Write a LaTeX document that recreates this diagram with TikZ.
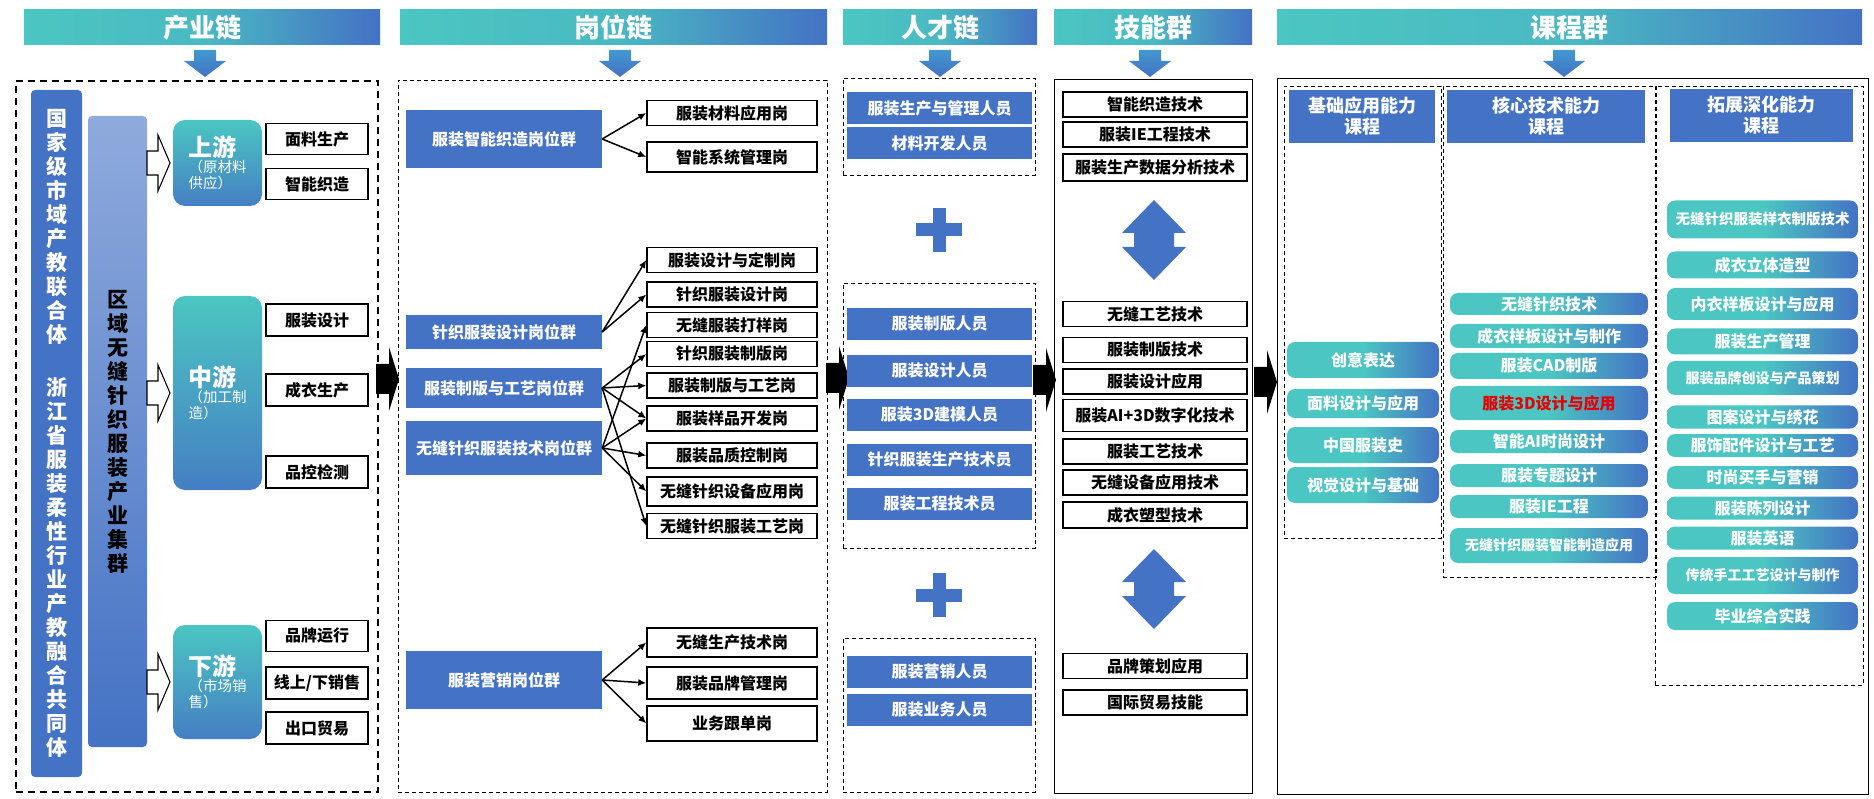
\documentclass[tikz,border=0pt]{standalone}
\usepackage{fontspec}
\setmainfont{Noto Sans CJK SC}
\usepackage{xcolor}
\usepackage{tikz}
\usetikzlibrary{arrows.meta,positioning}
\definecolor{tealc}{RGB}{75,198,194}
\definecolor{bluec}{RGB}{68,114,196}
\definecolor{lightbluec}{RGB}{143,170,220}
\definecolor{arrowblue}{RGB}{64,140,210}
\definecolor{redc}{RGB}{230,0,0}

\begin{document}
\begin{tikzpicture}[x=1pt, y=-1pt, >=Latex, every node/.style={inner sep=0pt, font=\bfseries\fontsize{16}{18}\selectfont}]
\tikzstyle{chainbar}=[left color=tealc, right color=bluec, middle color=tealc!85!bluec, text=white, minimum height=35, font=\bfseries\fontsize{26}{28}\selectfont]
\tikzstyle{plainbox}=[draw, line width=1.4, fill=white]
\tikzstyle{groupbox}=[fill=bluec, text=white, minimum width=196]
\tikzstyle{postbox}=[plainbox, minimum width=170]
\tikzstyle{talentbox}=[fill=bluec, text=white, minimum width=185, minimum height=32]
\tikzstyle{skillbox}=[plainbox, minimum width=184]
\tikzstyle{stagebox}=[rounded corners=12, top color=tealc, bottom color=bluec!85!tealc, text=white, minimum width=89, align=left, font=\fontsize{14.5}{16}\selectfont]
\tikzstyle{coursebox}=[rounded corners=8, left color=tealc, right color=bluec, middle color=tealc, text=white]
\tikzstyle{headbox}=[fill=bluec, text=white, minimum height=53, align=center, font=\bfseries\fontsize{18}{21}\selectfont]
\tikzstyle{dashframe}=[draw, line width=0.9, dash pattern=on 4pt off 3pt]
\tikzstyle{link}=[line width=1.5, -{Latex[length=8pt,width=7pt]}]
\useasboundingbox (0,0) rectangle (1874,799);

% header bars
\node[chainbar, minimum width=356] (hbind) at (202,27.5) {产业链};
\node[chainbar, minimum width=427] (hbpost) at (613.5,27.5) {岗位链};
\node[chainbar, minimum width=194] (hbtal) at (940,27.5) {人才链};
\node[chainbar, minimum width=198] (hbskill) at (1153,27.5) {技能群};
\node[chainbar, minimum width=585] (hbcourse) at (1569.5,27.5) {课程群};
\foreach \cx in {205,620,940,1150,1564}
  \shade[top color=arrowblue!80!tealc, bottom color=bluec] (\cx-11,50) -- (\cx+11,50) -- (\cx+11,61) -- (\cx+21,61) -- (\cx,77) -- (\cx-21,61) -- (\cx-11,61) -- cycle;

% frames
\node[draw, line width=2, dash pattern=on 7pt off 5pt, minimum width=362, minimum height=711] (indframe) at (197,436.5) {};
\node[dashframe, minimum width=429, minimum height=712] (postframe) at (612.5,436) {};
\node[dashframe, minimum width=192, minimum height=97] (talframeA) at (939,126.5) {};
\node[dashframe, minimum width=192, minimum height=265] (talframeB) at (939,415.5) {};
\node[dashframe, minimum width=192, minimum height=154] (talframeC) at (939,715) {};
\node[draw, line width=1, minimum width=198, minimum height=713] (skillframe) at (1153,436.5) {};
\node[draw, line width=1, minimum width=591, minimum height=715] (courseframe) at (1572.5,436.5) {};
\node[dashframe, minimum width=157, minimum height=452] (colA) at (1362.5,312) {};
\node[dashframe, minimum width=213, minimum height=491] (colB) at (1549.5,331.5) {};
\node[dashframe, minimum width=208, minimum height=599] (colC) at (1759,385.5) {};

% big arrows between chains
\foreach \ax/\ay in {376/379, 826/378, 1033/380, 1254/382}
  \fill (\ax,\ay-15) -- (\ax+13,\ay-15) -- (\ax+13,\ay-32) -- (\ax+23,\ay) -- (\ax+13,\ay+32) -- (\ax+13,\ay+15) -- (\ax,\ay+15) -- cycle;

% industry chain
\node[fill=bluec, rounded corners=4, minimum width=51, minimum height=687, text=white, align=center, font=\bfseries\fontsize{21}{24}\selectfont] (alliance) at (56.5,433.5) {国\\家\\级\\市\\域\\产\\教\\联\\合\\体\\[29pt]浙\\江\\省\\服\\装\\柔\\性\\行\\业\\产\\教\\融\\合\\共\\同\\体};
\node[top color=lightbluec, bottom color=bluec, rounded corners=4, minimum width=59, minimum height=631, align=center, font=\bfseries\fontsize{21}{24}\selectfont] (cluster) at (117.5,431.5) {区\\域\\无\\缝\\针\\织\\服\\装\\产\\业\\集\\群};
\foreach \ay in {163,393,682}
  \filldraw[fill=white, line width=1.1] (147,\ay-12) -- (158,\ay-12) -- (158,\ay-28) -- (170,\ay) -- (158,\ay+28) -- (158,\ay+12) -- (147,\ay+12) -- cycle;
\node[stagebox, minimum height=86] (up) at (217.5,163) {{\bfseries\fontsize{24}{26}\selectfont 上游}\\（原材料\\供应）};
\node[stagebox, minimum height=194] (mid) at (217.5,393) {{\bfseries\fontsize{24}{26}\selectfont 中游}\\（加工制\\造）};
\node[stagebox, minimum height=114] (down) at (217.5,682) {{\bfseries\fontsize{24}{26}\selectfont 下游}\\（市场销\\售）};
\node[plainbox, minimum width=102, minimum height=31] (ind1) at (317,139) {面料生产};
\node[plainbox, minimum width=102, minimum height=31] (ind2) at (317,184) {智能织造};
\node[plainbox, minimum width=102, minimum height=32] (ind3) at (317,320) {服装设计};
\node[plainbox, minimum width=102, minimum height=32] (ind4) at (317,390) {成衣生产};
\node[plainbox, minimum width=102, minimum height=32] (ind5) at (317,472) {品控检测};
\node[plainbox, minimum width=102, minimum height=31] (ind6) at (317,636) {品牌运行};
\node[plainbox, minimum width=102, minimum height=32] (ind7) at (317,683) {线上/下销售};
\node[plainbox, minimum width=102, minimum height=32] (ind8) at (317,728) {出口贸易};

% post chain
\node[groupbox, minimum height=58] (g1) at (504,139) {服装智能织造岗位群};
\node[groupbox, minimum height=34] (g2) at (504,332) {针织服装设计岗位群};
\node[groupbox, minimum height=40] (g3) at (504,388) {服装制版与工艺岗位群};
\node[groupbox, minimum height=54] (g4) at (504,448) {无缝针织服装技术岗位群};
\node[groupbox, minimum height=58] (g5) at (504,680) {服装营销岗位群};
\node[postbox, minimum height=25] (q1) at (732,113) {服装材料应用岗};
\node[postbox, minimum height=30] (q2) at (732,157) {智能系统管理岗};
\node[postbox, minimum height=25] (p1) at (732,260) {服装设计与定制岗};
\node[postbox, minimum height=25] (p2) at (732,294.5) {针织服装设计岗};
\node[postbox, minimum height=25] (p3) at (732,325) {无缝服装打样岗};
\node[postbox, minimum height=25] (p4) at (732,354) {针织服装制版岗};
\node[postbox, minimum height=25] (p5) at (732,385.5) {服装制版与工艺岗};
\node[postbox, minimum height=25] (p6) at (732,418.5) {服装样品开发岗};
\node[postbox, minimum height=25] (p7) at (732,455.5) {服装品质控制岗};
\node[postbox, minimum height=29] (p8) at (732,491.5) {无缝针织设备应用岗};
\node[postbox, minimum height=25] (p9) at (732,526) {无缝针织服装工艺岗};
\node[postbox, minimum height=29] (r1) at (732,642.5) {无缝生产技术岗};
\node[postbox, minimum height=32] (r2) at (732,683) {服装品牌管理岗};
\node[postbox, minimum height=35] (r3) at (732,723.5) {业务跟单岗};
\draw[link] (g1.east) -- (q1.west);
\draw[link] (g1.east) -- (q2.west);
\draw[link] (g2.east) -- (p1.west);
\draw[link] (g2.east) -- (p2.west);
\draw[link] (g3.east) -- (p4.west);
\draw[link] (g3.east) -- (p5.west);
\draw[link] (g3.east) -- (p6.west);
\draw[link] (g3.east) -- (p9.west);
\draw[link] (g4.east) -- (p3.west);
\draw[link] (g4.east) -- (p6.west);
\draw[link] (g4.east) -- (p7.west);
\draw[link] (g4.east) -- (p8.west);
\draw[link] (g5.east) -- (r1.west);
\draw[link] (g5.east) -- (r2.west);
\draw[link] (g5.east) -- (r3.west);

% talent chain
\node[talentbox] (t1) at (939.5,108) {服装生产与管理人员};
\node[talentbox] (t2) at (939.5,143) {材料开发人员};
\node[talentbox] (t3) at (939.5,324) {服装制版人员};
\node[talentbox] (t4) at (939.5,371) {服装设计人员};
\node[talentbox] (t5) at (939.5,415) {服装3D建模人员};
\node[talentbox] (t6) at (939.5,459.5) {针织服装生产技术员};
\node[talentbox] (t7) at (939.5,504) {服装工程技术员};
\node[talentbox] (t8) at (939.5,671.5) {服装营销人员};
\node[talentbox] (t9) at (939.5,710) {服装业务人员};
\foreach \py in {230,595} {
  \fill[bluec] (916,\py-6.5) rectangle (962,\py+6.5);
  \fill[bluec] (932.5,\py-22) rectangle (945.5,\py+22);
}

% skill group
\node[skillbox, minimum height=25] (s1) at (1155,104.5) {智能织造技术};
\node[skillbox, minimum height=25] (s2) at (1155,134.5) {服装IE工程技术};
\node[skillbox, minimum height=27] (s3) at (1155,167.5) {服装生产数据分析技术};
\node[skillbox, minimum height=25] (s4) at (1155,314) {无缝工艺技术};
\node[skillbox, minimum height=25] (s5) at (1155,350) {服装制版技术};
\node[skillbox, minimum height=25] (s6) at (1155,381.5) {服装设计应用};
\node[skillbox, minimum height=32] (s7) at (1155,415.5) {服装AI+3D数字化技术};
\node[skillbox, minimum height=25] (s8) at (1155,451.5) {服装工艺技术};
\node[skillbox, minimum height=25] (s9) at (1155,482.5) {无缝设备应用技术};
\node[skillbox, minimum height=26] (s10) at (1155,515) {成衣塑型技术};
\node[skillbox, minimum height=25] (s11) at (1155,666) {品牌策划应用};
\node[skillbox, minimum height=25] (s12) at (1155,702.5) {国际贸易技能};
\foreach \dy in {200,549}
  \fill[bluec] (1154,\dy) -- (1186,\dy+33) -- (1174,\dy+33) -- (1174,\dy+47) -- (1186,\dy+47) -- (1154,\dy+80) -- (1122,\dy+47) -- (1134,\dy+47) -- (1134,\dy+33) -- (1122,\dy+33) -- cycle;

% course group
\node[headbox, minimum width=146] (h1) at (1362,116.5) {基础应用能力\\课程};
\node[headbox, minimum width=198] (h2) at (1546,116.5) {核心技术能力\\课程};
\node[headbox, minimum width=183] (h3) at (1761.5,115.5) {拓展深化能力\\课程};
\node[coursebox, minimum width=152, minimum height=36] (ca1) at (1363,360) {创意表达};
\node[coursebox, minimum width=152, minimum height=29] (ca2) at (1363,403.5) {面料设计与应用};
\node[coursebox, minimum width=152, minimum height=36] (ca3) at (1363,445) {中国服装史};
\node[coursebox, minimum width=152, minimum height=36] (ca4) at (1363,485) {视觉设计与基础};
\node[coursebox, minimum width=198, minimum height=22] (cb1) at (1549,304) {无缝针织技术};
\node[coursebox, minimum width=198, minimum height=24] (cb2) at (1549,336) {成衣样板设计与制作};
\node[coursebox, minimum width=198, minimum height=26] (cb3) at (1549,366) {服装CAD制版};
\node[coursebox, minimum width=198, minimum height=34, text=redc] (cb4) at (1549,403) {服装3D设计与应用};
\node[coursebox, minimum width=198, minimum height=23] (cb5) at (1549,441.5) {智能AI时尚设计};
\node[coursebox, minimum width=198, minimum height=23] (cb6) at (1549,475.5) {服装专题设计};
\node[coursebox, minimum width=198, minimum height=23] (cb7) at (1549,506.5) {服装IE工程};
\node[coursebox, minimum width=198, minimum height=35, font=\bfseries\fontsize{14}{16}\selectfont] (cb8) at (1549,545.5) {无缝针织服装智能制造应用};
\node[coursebox, minimum width=191, minimum height=38, font=\bfseries\fontsize{14.5}{16}\selectfont] (cc1) at (1762.5,219.5) {无缝针织服装样衣制版技术};
\node[coursebox, minimum width=191, minimum height=27] (cc2) at (1762.5,265) {成衣立体造型};
\node[coursebox, minimum width=191, minimum height=32] (cc3) at (1762.5,304) {内衣样板设计与应用};
\node[coursebox, minimum width=191, minimum height=26] (cc4) at (1762.5,341.5) {服装生产管理};
\node[coursebox, minimum width=191, minimum height=34, font=\bfseries\fontsize{14}{16}\selectfont] (cc5) at (1762.5,378) {服装品牌创设与产品策划};
\node[coursebox, minimum width=191, minimum height=23] (cc6) at (1762.5,417) {图案设计与绣花};
\node[coursebox, minimum width=191, minimum height=23] (cc7) at (1762.5,445.5) {服饰配件设计与工艺};
\node[coursebox, minimum width=191, minimum height=23] (cc8) at (1762.5,477.5) {时尚买手与营销};
\node[coursebox, minimum width=191, minimum height=23] (cc9) at (1762.5,508) {服装陈列设计};
\node[coursebox, minimum width=191, minimum height=23] (cc10) at (1762.5,538) {服装英语};
\node[coursebox, minimum width=191, minimum height=37, font=\bfseries\fontsize{14}{16}\selectfont] (cc11) at (1762.5,575.5) {传统手工工艺设计与制作};
\node[coursebox, minimum width=191, minimum height=28] (cc12) at (1762.5,616) {毕业综合实践};
\end{tikzpicture}
\end{document}
